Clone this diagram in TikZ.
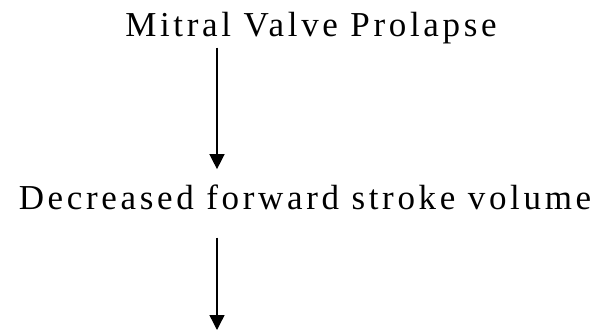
\documentclass[tikz,border=0pt]{standalone}
\usepackage{fontspec}
\setmainfont{Liberation Serif}[LetterSpace=10.5]
\usetikzlibrary{arrows.meta,positioning}

\begin{document}
\begin{tikzpicture}[x=1pt,y=1pt,
    label/.style={font=\fontsize{35}{40}\selectfont,inner sep=0pt,anchor=base},
    flow/.style={-{Triangle[width=15pt,length=15pt]},line width=1.4pt}]

    \useasboundingbox (0,0) rectangle (601,332);

    % ── text ───────────────────────────────────────
    \node[label] (prolapse) at (311,295){Mitral Valve Prolapse};
    \node[label] (stroke)   at (305,123){Decreased forward stroke volume};

    % ── arrows ─────────────────────────────────────
    \coordinate (next) at (217,2);
    \draw[flow,shorten <=3pt,shorten >=15pt]
        (prolapse.south -| next) -- (stroke.north -| next);
    \draw[flow,shorten <=28pt] (stroke.south -| next) -- (next);

\end{tikzpicture}
\end{document}
